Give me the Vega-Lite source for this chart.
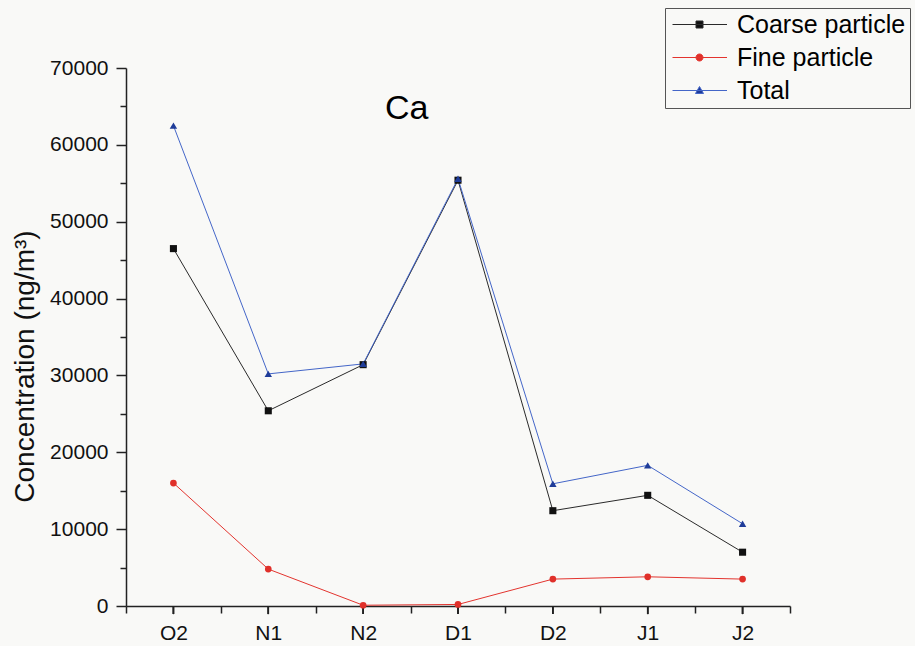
{
  "$schema": "https://vega.github.io/schema/vega-lite/v6.json",
  "width": 664,
  "height": 538,
  "autosize": {"type": "none"},
  "padding": {"left": 126, "top": 68, "right": 125, "bottom": 40},
  "background": "#f9f9f7",
  "config": {"view": {"stroke": null}, "font": "Liberation Sans"},
  "title": {"text": "Ca", "anchor": "start", "frame": "group", "dx": 259, "dy": 122, "fontSize": 34, "fontWeight": "normal", "color": "#000", "font": "Liberation Sans"},
  "data": {"values": [
    {"month": "O2", "series": "Coarse particle", "value": 46500},
    {"month": "N1", "series": "Coarse particle", "value": 25400},
    {"month": "N2", "series": "Coarse particle", "value": 31400},
    {"month": "D1", "series": "Coarse particle", "value": 55400},
    {"month": "D2", "series": "Coarse particle", "value": 12400},
    {"month": "J1", "series": "Coarse particle", "value": 14400},
    {"month": "J2", "series": "Coarse particle", "value": 7000},
    {"month": "O2", "series": "Fine particle", "value": 16000},
    {"month": "N1", "series": "Fine particle", "value": 4800},
    {"month": "N2", "series": "Fine particle", "value": 100},
    {"month": "D1", "series": "Fine particle", "value": 200},
    {"month": "D2", "series": "Fine particle", "value": 3500},
    {"month": "J1", "series": "Fine particle", "value": 3800},
    {"month": "J2", "series": "Fine particle", "value": 3500},
    {"month": "O2", "series": "Total", "value": 62500},
    {"month": "N1", "series": "Total", "value": 30200},
    {"month": "N2", "series": "Total", "value": 31500},
    {"month": "D1", "series": "Total", "value": 55600},
    {"month": "D2", "series": "Total", "value": 15900},
    {"month": "J1", "series": "Total", "value": 18300},
    {"month": "J2", "series": "Total", "value": 10700}
  ]},
  "encoding": {
    "x": {"field": "month", "type": "nominal", "sort": ["O2", "N1", "N2", "D1", "D2", "J1", "J2"], "bandPosition": 0.5,
      "scale": {"type": "band", "paddingInner": 0, "paddingOuter": 0},
      "axis": {"orient": "bottom", "title": null, "labelAngle": 0, "labelFontSize": 21, "labelColor": "#111", "labelPadding": 9, "tickBand": "extent", "tickSize": 7, "tickWidth": 1.5, "tickColor": "#222", "domainColor": "#222", "domainWidth": 1.5, "grid": false}},
    "y": {"field": "value", "type": "quantitative", "scale": {"domain": [0, 70000], "nice": false},
      "axis": {"orient": "left", "values": [0, 5000, 10000, 15000, 20000, 25000, 30000, 35000, 40000, 45000, 50000, 55000, 60000, 65000, 70000],
        "labelExpr": "datum.value % 10000 === 0 ? datum.label : ''", "format": "d",
        "tickSize": {"condition": {"test": "datum.value % 10000 !== 0", "value": 6}, "value": 10},
        "tickWidth": 1.5, "tickColor": "#222", "labelPadding": 8, "labelFontSize": 21, "labelColor": "#111", "labelFlush": false, "labelOverlap": false, "domainColor": "#222", "domainWidth": 1.5, "grid": false,
        "title": "Concentration (ng/m³)", "titleFontSize": 28, "titleFontWeight": "normal", "titleColor": "#111",
        "titleX": -93, "titleY": 298, "titleAngle": -90, "titleAlign": "center", "titleBaseline": "alphabetic"}}
  },
  "layer": [
    {
      "mark": {"type": "rule", "color": "#222", "strokeWidth": 1.5},
      "encoding": {"y": {"datum": 0}, "y2": {"datum": -1050}}
    },
    {
      "mark": {"type": "line", "strokeWidth": 1},
      "encoding": {
        "color": {"field": "series", "type": "nominal",
          "scale": {"domain": ["Coarse particle", "Fine particle", "Total"], "range": ["#2a2a2a", "#e3342e", "#4466c8"]},
          "legend": {"orient": "none", "legendX": 539, "legendY": -60, "title": null, "strokeColor": "#555", "padding": 4,
            "labelFontSize": 25, "labelColor": "#000", "labelFont": "Liberation Sans", "labelOffset": 43, "labelLimit": 400, "rowPadding": 7, "symbolSize": 100,
            "encode": {"symbols": {"update": {
              "shape": {"signal": "datum.value === 'Coarse particle' ? 'M-1.8,0H9.1M2.9,-0.7H4.3V0.7H2.9Z' : datum.value === 'Fine particle' ? 'M-1.8,0H9.1M4.3,0A0.7,0.7,0,1,1,2.9,0A0.7,0.7,0,1,1,4.3,0Z' : 'M-1.8,0H9.1M3.6,-0.8L4.4,0.6H2.8Z'"},
              "fill": {"signal": "datum.value === 'Coarse particle' ? '#111111' : datum.value === 'Fine particle' ? '#e0302a' : '#1f3c99'"},
              "stroke": {"signal": "datum.value === 'Coarse particle' ? '#333333' : datum.value === 'Fine particle' ? '#e83a3a' : '#5b7bd0'"},
              "strokeWidth": {"value": 1},
              "opacity": {"value": 1}
            }}}}}
      }
    },
    {
      "transform": [{"filter": "datum.series === 'Coarse particle'"}],
      "mark": {"type": "point", "shape": "square", "filled": true, "opacity": 1, "size": 50, "color": "#111111"}
    },
    {
      "transform": [{"filter": "datum.series === 'Fine particle'"}],
      "mark": {"type": "point", "shape": "circle", "filled": true, "opacity": 1, "size": 45, "color": "#e0302a"}
    },
    {
      "transform": [{"filter": "datum.series === 'Total'"}],
      "mark": {"type": "point", "shape": "triangle-up", "filled": true, "opacity": 1, "size": 55, "color": "#1f3c99"}
    }
  ]
}
